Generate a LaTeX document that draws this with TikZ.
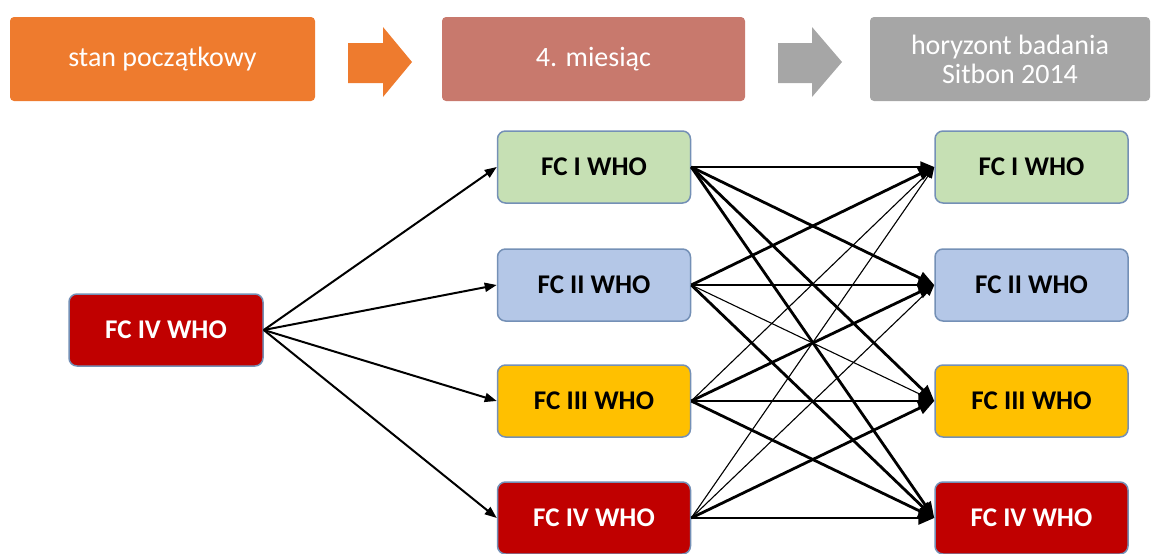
\documentclass[tikz,border=0pt]{standalone}
\usepackage{fontspec}
\setmainfont{Carlito}
\usetikzlibrary{arrows.meta}

\definecolor{hdrorange}{HTML}{EE7B2E}
\definecolor{hdrrose}{HTML}{C8796D}
\definecolor{hdrgray}{HTML}{A6A6A6}
\definecolor{fcgreen}{HTML}{C6E0B4}
\definecolor{fcblue}{HTML}{B4C7E7}
\definecolor{fcyellow}{HTML}{FFC000}
\definecolor{fcred}{HTML}{C00000}
\definecolor{fcedge}{HTML}{7490B6}

\tikzset{
  header/.style={rounded corners=4pt, minimum height=84pt, inner sep=0pt,
    text=white, align=center, font=\fontsize{28}{29}\selectfont},
  fcbox/.style={draw=fcedge, line width=1.5pt, rounded corners=8pt,
    minimum width=193pt, minimum height=72pt, inner sep=0pt,
    font=\fontsize{27}{30}\selectfont\bfseries},
  larr/.style={line width=2pt, -{Triangle[length=12pt,width=9pt]}},
  wbig/.style={line width=2.8pt, -{Triangle[length=16pt,width=13pt]}},
  wmid/.style={line width=1.9pt, -{Triangle[length=14pt,width=11pt]}},
  wthin/.style={line width=1.1pt, -{Triangle[length=11pt,width=9pt]}},
}

\begin{document}
\begin{tikzpicture}[x=1pt,y=-1pt]
\useasboundingbox (0,0) rectangle (1160,554);

% timeline headers
\node[header, fill=hdrorange, minimum width=305pt] (h1) at (162.5,59) {stan początkowy};
\node[header, fill=hdrrose,   minimum width=303pt] (h2) at (593.5,59) {4. miesiąc};
\node[header, fill=hdrgray,   minimum width=280pt] (h3) at (1010,59) {horyzont badania\\Sitbon 2014};

% block arrows between the headers
\fill[hdrorange] (348,43) -- (383,43) -- (383,27) -- (412,62) -- (383,97) -- (383,83) -- (348,83) -- cycle;
\fill[hdrgray]   (778,43) -- (812,43) -- (812,27) -- (842,62) -- (812,97) -- (812,83) -- (778,83) -- cycle;

% initial state
\node[fcbox, fill=fcred, text=white, minimum width=194pt] (L) at (166,330) {FC IV WHO};

% state after 4 months
\node[fcbox, fill=fcgreen]              (M1) at (594,167) {FC I WHO};
\node[fcbox, fill=fcblue]               (M2) at (594,285) {FC II WHO};
\node[fcbox, fill=fcyellow]             (M3) at (594,401) {FC III WHO};
\node[fcbox, fill=fcred, text=white]    (M4) at (594,518) {FC IV WHO};

% state at the end of follow-up
\node[fcbox, fill=fcgreen]              (R1) at (1031.5,167) {FC I WHO};
\node[fcbox, fill=fcblue]               (R2) at (1031.5,285) {FC II WHO};
\node[fcbox, fill=fcyellow]             (R3) at (1031.5,401) {FC III WHO};
\node[fcbox, fill=fcred, text=white]    (R4) at (1031.5,518) {FC IV WHO};

% transitions to month 4
\draw[larr] (L.east) -- (M1.west);
\draw[larr] (L.east) -- (M2.west);
\draw[larr] (L.east) -- (M3.west);
\draw[larr] (L.east) -- (M4.west);

% transitions to the end of follow-up
\draw[wmid]  (M1.east) -- (R1.west);
\draw[wbig]  (M1.east) -- (R2.west);
\draw[wbig]  (M1.east) -- (R3.west);
\draw[wbig]  (M1.east) -- (R4.west);

\draw[wbig]  (M2.east) -- (R1.west);
\draw[wbig]  (M2.east) -- (R2.west);
\draw[wthin] (M2.east) -- (R3.west);
\draw[wbig]  (M2.east) -- (R4.west);

\draw[wthin] (M3.east) -- (R1.west);
\draw[wbig]  (M3.east) -- (R2.west);
\draw[wbig]  (M3.east) -- (R3.west);
\draw[wbig]  (M3.east) -- (R4.west);

\draw[wthin] (M4.east) -- (R1.west);
\draw[wthin] (M4.east) -- (R2.west);
\draw[wbig]  (M4.east) -- (R3.west);
\draw[wbig]  (M4.east) -- (R4.west);
\end{tikzpicture}
\end{document}
